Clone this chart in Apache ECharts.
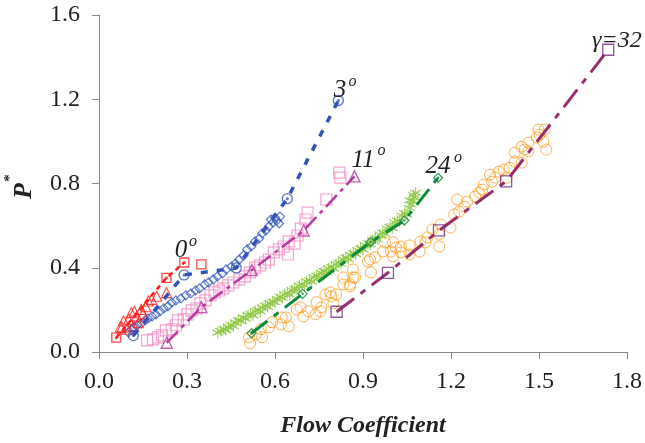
<!DOCTYPE html>
<html>
<head>
<meta charset="utf-8">
<script src="https://cdn.jsdelivr.net/npm/echarts@6/dist/echarts.min.js"></script>
<style>
html,body{margin:0;padding:0;background:#fff;}
#c{width:645px;height:443px;}
</style>
</head>
<body>
<div id="c"></div>
<script>
// ---------- data ----------
const xTicks = [0.0, 0.3, 0.6, 0.9, 1.2, 1.5, 1.8];
const yTicks = [0.0, 0.4, 0.8, 1.2, 1.6];

// 0 deg
const redTriangles = [[0.073,0.120],[0.084,0.147],[0.101,0.155],[0.110,0.187],[0.121,0.194],[0.129,0.171],[0.144,0.202],[0.118,0.123],[0.168,0.242],[0.180,0.250],[0.197,0.265],[0.230,0.282],[0.134,0.139],[0.078,0.117],[0.095,0.108],[0.160,0.215],[0.150,0.180]];
const redModel = [[0.059,0.068],[0.230,0.352],[0.291,0.425]];
const redMarker = [[0.059,0.068],[0.230,0.352],[0.291,0.425],[0.349,0.416]];

// 3 deg
const blueDiamonds = [[0.100,0.093],[0.110,0.107],[0.120,0.117],[0.130,0.127],[0.144,0.136],[0.157,0.150],[0.167,0.159],[0.181,0.169],[0.194,0.178],[0.208,0.193],[0.221,0.207],[0.235,0.217],[0.248,0.235],[0.262,0.245],[0.279,0.254],[0.296,0.269],[0.313,0.278],[0.329,0.292],[0.343,0.302],[0.360,0.321],[0.373,0.330],[0.390,0.345],[0.404,0.359],[0.421,0.373],[0.434,0.392],[0.451,0.406],[0.465,0.420],[0.478,0.439],[0.492,0.458],[0.505,0.487],[0.519,0.501],[0.532,0.525],[0.546,0.539],[0.556,0.563],[0.569,0.577],[0.579,0.596],[0.593,0.615],[0.606,0.624],[0.617,0.643],[0.600,0.638],[0.614,0.610],[0.586,0.629]];
const blueModel = [[0.117,0.078],[0.290,0.366],[0.468,0.399],[0.642,0.728],[0.816,1.194]];

// 11 deg
const pinkSquares = [[0.164,0.055],[0.184,0.060],[0.201,0.069],[0.215,0.079],[0.228,0.103],[0.248,0.108],[0.262,0.127],[0.269,0.150],[0.289,0.155],[0.302,0.179],[0.316,0.198],[0.333,0.207],[0.346,0.231],[0.363,0.245],[0.380,0.269],[0.394,0.283],[0.410,0.292],[0.424,0.302],[0.441,0.316],[0.458,0.330],[0.478,0.345],[0.498,0.359],[0.515,0.378],[0.532,0.401],[0.549,0.411],[0.566,0.425],[0.579,0.439],[0.596,0.473],[0.613,0.487],[0.630,0.501],[0.644,0.463],[0.647,0.525],[0.667,0.515],[0.677,0.553],[0.688,0.586],[0.704,0.629],[0.711,0.662],[0.775,0.724],[0.819,0.852],[0.823,0.828]];
const magentaModel = [[0.231,0.044],[0.349,0.213],[0.521,0.389],[0.698,0.577],[0.871,0.834]];

// 24 deg
const greenStars = [[0.405,0.092],[0.415,0.100],[0.425,0.110],[0.432,0.104],[0.442,0.118],[0.450,0.128],[0.458,0.122],[0.466,0.140],[0.475,0.150],[0.484,0.146],[0.492,0.165],[0.500,0.158],[0.508,0.176],[0.517,0.180],[0.525,0.174],[0.533,0.195],[0.542,0.200],[0.550,0.192],[0.558,0.212],[0.567,0.220],[0.575,0.214],[0.583,0.232],[0.592,0.240],[0.600,0.236],[0.608,0.252],[0.617,0.262],[0.625,0.256],[0.633,0.274],[0.642,0.280],[0.650,0.272],[0.658,0.294],[0.667,0.300],[0.675,0.296],[0.683,0.316],[0.692,0.322],[0.700,0.316],[0.708,0.336],[0.717,0.342],[0.725,0.334],[0.733,0.356],[0.742,0.362],[0.750,0.354],[0.758,0.376],[0.767,0.384],[0.775,0.378],[0.783,0.398],[0.792,0.404],[0.800,0.396],[0.808,0.418],[0.817,0.424],[0.825,0.418],[0.833,0.440],[0.842,0.448],[0.850,0.440],[0.858,0.462],[0.867,0.470],[0.875,0.464],[0.883,0.484],[0.892,0.492],[0.900,0.486],[0.908,0.508],[0.917,0.516],[0.925,0.510],[0.933,0.532],[0.942,0.540],[0.950,0.534],[0.958,0.558],[0.967,0.566],[0.975,0.560],[0.983,0.586],[0.992,0.594],[1.000,0.588],[1.008,0.616],[1.017,0.624],[1.025,0.618],[1.033,0.648],[1.042,0.660],[1.050,0.652],[1.058,0.684],[1.064,0.700],[1.070,0.716],[1.075,0.735],[1.079,0.756],[1.072,0.745],[1.060,0.720]];
const greenModel = [[0.520,0.089],[0.694,0.276],[0.926,0.522],[1.041,0.624],[1.156,0.827]];

// gamma = 32
const orangeCircles = [[0.515,0.041],[0.512,0.070],[0.535,0.084],[0.556,0.070],[0.552,0.108],[0.579,0.117],[0.590,0.141],[0.620,0.131],[0.637,0.164],[0.647,0.122],[0.623,0.164],[0.674,0.202],[0.687,0.212],[0.697,0.169],[0.714,0.193],[0.738,0.179],[0.742,0.236],[0.758,0.212],[0.755,0.193],[0.772,0.273],[0.789,0.283],[0.792,0.264],[0.799,0.231],[0.809,0.273],[0.833,0.321],[0.833,0.354],[0.856,0.311],[0.856,0.321],[0.866,0.354],[0.866,0.392],[0.873,0.354],[0.917,0.430],[0.924,0.440],[0.927,0.378],[0.941,0.449],[0.968,0.477],[0.975,0.520],[0.995,0.477],[1.002,0.454],[1.002,0.520],[1.012,0.496],[1.029,0.473],[1.029,0.501],[1.059,0.463],[1.059,0.506],[1.093,0.477],[1.096,0.525],[1.113,0.520],[1.120,0.544],[1.137,0.582],[1.160,0.558],[1.160,0.501],[1.164,0.605],[1.198,0.591],[1.211,0.653],[1.228,0.667],[1.221,0.724],[1.245,0.691],[1.255,0.714],[1.282,0.738],[1.296,0.757],[1.306,0.771],[1.312,0.795],[1.333,0.842],[1.340,0.809],[1.350,0.828],[1.363,0.856],[1.380,0.866],[1.400,0.875],[1.390,0.828],[1.417,0.904],[1.441,0.899],[1.417,0.946],[1.441,0.975],[1.451,0.961],[1.464,0.994],[1.464,0.952],[1.492,1.018],[1.502,1.032],[1.498,1.056],[1.519,1.056],[1.515,0.999],[1.525,0.961]];
const purpleModel = [[0.810,0.191],[0.985,0.376],[1.159,0.577],[1.388,0.810],[1.736,1.435]];

// ---------- chart ----------
const SERIF = '"Liberation Serif","Times New Roman",serif';
const chart = echarts.init(document.getElementById('c'), null, {renderer: 'canvas'});
const star = 'path://M0,-10L0,10M-8.66,-5L8.66,5M-8.66,5L8.66,-5';

function hollow(name, data, symbol, size, color, bw, z) {
  return {type: 'scatter', name, data, symbol, symbolSize: size, z: z || 2,
    itemStyle: {color: 'rgba(0,0,0,0)', borderColor: color, borderWidth: bw || 1}};
}
function dots(data, color, size) {
  return {type: 'scatter', data, symbol: 'circle', symbolSize: size || 3, z: 6,
    itemStyle: {color}};
}
function modelLine(data, color, width, dash) {
  return {type: 'line', data, showSymbol: false, symbol: 'none', z: 5,
    lineStyle: {color, width, type: dash, cap: 'butt'}};
}

chart.setOption({
  animation: false,
  backgroundColor: '#ffffff',
  grid: {left: 99, right: 14, top: 15, bottom: 90},
  xAxis: {
    type: 'value', min: 0, max: 1.8, interval: 0.3,
    name: 'Flow Coefficient', nameLocation: 'middle', nameGap: 62,
    nameTextStyle: {fontFamily: SERIF, fontSize: 24, fontStyle: 'italic', fontWeight: 'bold', color: '#222'},
    axisLine: {lineStyle: {color: '#888', width: 1}},
    axisTick: {length: 7, lineStyle: {color: '#888'}},
    splitLine: {show: false},
    axisLabel: {fontFamily: SERIF, fontSize: 24, color: '#222', margin: 18,
      formatter: v => xTicks.find(t => Math.abs(t - v) < 1e-6).toFixed(1)}
  },
  yAxis: {
    type: 'value', min: 0, max: 1.6, interval: 0.4,
    axisLine: {show: true, lineStyle: {color: '#888', width: 1}},
    axisTick: {show: true, length: 7, lineStyle: {color: '#888'}},
    splitLine: {show: false},
    axisLabel: {fontFamily: SERIF, fontSize: 24, color: '#222', margin: 19,
      formatter: v => yTicks.find(t => Math.abs(t - v) < 1e-6).toFixed(1)}
  },
  series: [
    // experimental data
    hollow('orange', orangeCircles, 'circle', 11, '#ff9c1c', 1),
    {type: 'scatter', data: greenStars, symbol: star, symbolSize: 11, z: 3,
      itemStyle: {color: 'rgba(0,0,0,0)', borderColor: '#8cc63f', borderWidth: 1.2}},
    hollow('pink', pinkSquares, 'rect', 11, '#f28ec6', 1.2),
    hollow('blue', blueDiamonds, 'diamond', 9, '#3a5cc0', 1.2, 3),
    hollow('red', redTriangles, 'triangle', 10, '#ff1a1a', 1.1, 3),
    // model lines
    modelLine(purpleModel, '#9a2e6c', 3, [22, 8, 6, 8]),
    modelLine(greenModel, '#0c8a3e', 3, [20, 8, 6, 8]),
    modelLine(magentaModel, '#b83a9e', 2.5, [16, 5, 4, 5]),
    modelLine(blueModel, '#3352b8', 3.5, [7, 9]),
    modelLine(redModel, '#ff1a1a', 2.5, [5, 4]),
    // model markers
    hollow('purpleM', purpleModel, 'rect', 11, '#7a2c80', 1.3, 7),
    hollow('greenM', greenModel, 'diamond', 9, '#0c8a3e', 1.3, 7),
    dots(greenModel, '#0c8a3e', 2.5),
    hollow('magentaM', magentaModel, 'triangle', 11, '#b83a9e', 1.4, 7),
    hollow('blueM', blueModel, 'circle', 10, '#3352b8', 1.3, 7),
    dots(blueModel, '#3352b8', 3),
    hollow('redM', redMarker, 'rect', 9, '#ff1a1a', 1.3, 7),
    dots(redModel, '#ff1a1a', 3)
  ]
});

// ---------- annotations ----------
function t(text, x, y, size) {
  return {type: 'text', x, y, z: 100,
    style: {text, fill: '#222', font: 'italic ' + size + 'px ' + SERIF, align: 'center', verticalAlign: 'middle'}};
}
chart.setOption({
  graphic: [
    t('0', 181, 250, 25), t('o', 193, 242, 16),
    t('3', 340, 90, 25), t('o', 352.5, 81.5, 16),
    t('11', 363, 160, 25), t('o', 381.5, 151, 16),
    t('24', 438, 166.5, 25), t('o', 458, 157.5, 16),
    {type: 'text', x: 592, y: 41, z: 100,
      style: {text: 'γ=32', fill: '#222', font: 'italic 24px ' + SERIF, align: 'left', verticalAlign: 'middle'}},
    {type: 'text', x: 24, y: 191, rotation: Math.PI / 2, z: 100,
      style: {text: 'P', fill: '#222', font: 'italic bold 26px ' + SERIF, align: 'center', verticalAlign: 'middle'}},
    {type: 'text', x: 10, y: 178, rotation: Math.PI / 2, z: 100,
      style: {text: '*', fill: '#222', font: 'bold 15px ' + SERIF, align: 'center', verticalAlign: 'middle'}}
  ]
});
</script>
</body>
</html>
